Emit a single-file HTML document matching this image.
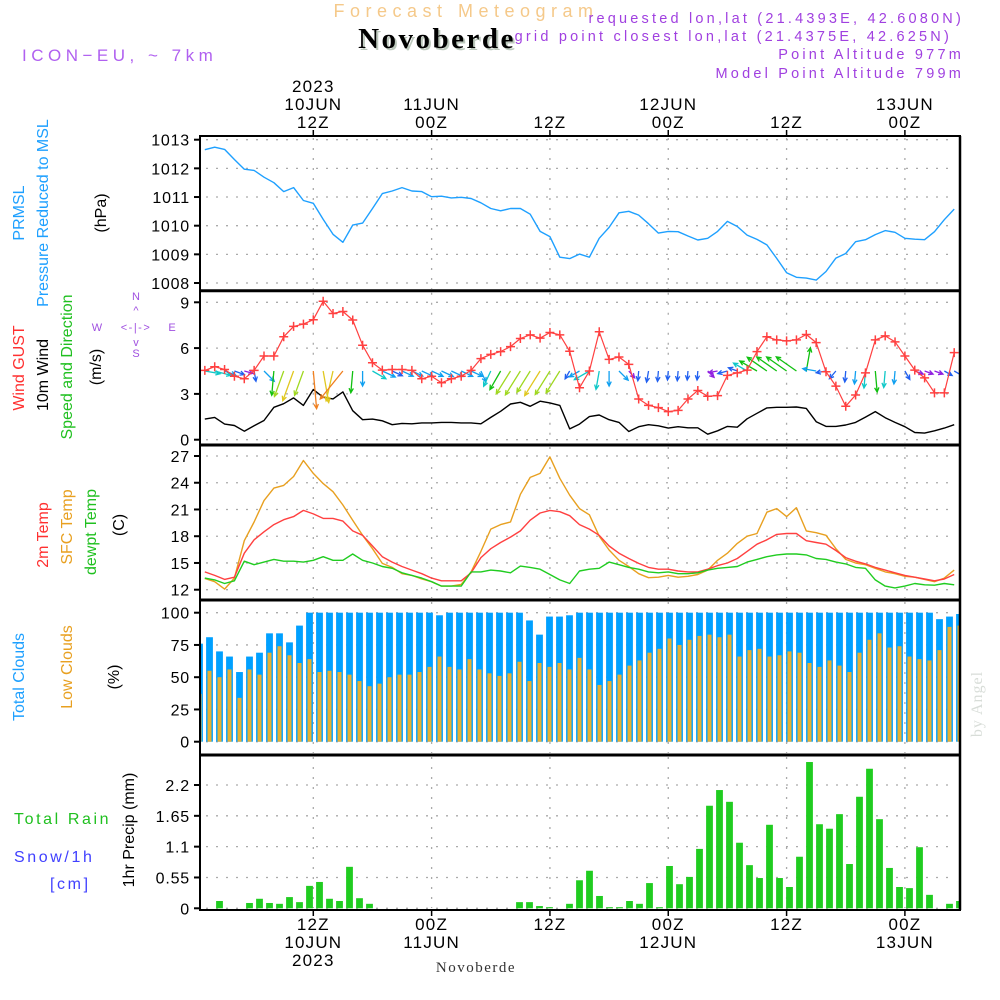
<!DOCTYPE html>
<html><head><meta charset="utf-8">
<style>
html,body{margin:0;padding:0;background:#fff;}
svg{display:block;font-family:"Liberation Sans",sans-serif;}
</style></head>
<body>
<svg id="chart" width="1000" height="1000" viewBox="0 0 1000 1000" xmlns="http://www.w3.org/2000/svg">
<g>
<text x="466" y="17" text-anchor="middle" font-size="18" fill="#f5c98a" letter-spacing="5.5">Forecast Meteogram</text>
<text x="439" y="50" text-anchor="middle" font-family="Liberation Serif, serif" font-weight="bold" font-size="29" fill="#bcc8bc" letter-spacing="2.5">Novoberde</text>
<text x="437" y="48" text-anchor="middle" font-family="Liberation Serif, serif" font-weight="bold" font-size="29" fill="#000" letter-spacing="2.5">Novoberde</text>
<text x="22" y="61" font-size="17" fill="#b060f0" letter-spacing="4.5">ICON−EU,  ~  7km</text>
<text x="964" y="23" text-anchor="end" font-size="14.5" fill="#a040e0" letter-spacing="3.2">requested lon,lat (21.4393E, 42.6080N)</text>
<text x="952" y="41" text-anchor="end" font-size="14.5" fill="#a040e0" letter-spacing="3.2">grid point closest lon,lat (21.4375E, 42.625N)</text>
<text x="964" y="59" text-anchor="end" font-size="14.5" fill="#a040e0" letter-spacing="3.2">Point Altitude 977m</text>
<text x="964" y="78" text-anchor="end" font-size="14.5" fill="#a040e0" letter-spacing="3.2">Model Point Altitude 799m</text>
</g>
<g font-size="16">
<text transform="translate(24,213) rotate(-90)" text-anchor="middle" fill="#1ea0ff">PRMSL</text>
<text transform="translate(48,213) rotate(-90)" text-anchor="middle" fill="#1ea0ff">Pressure Reduced to MSL</text>
<text transform="translate(106,213) rotate(-90)" text-anchor="middle" fill="#000">(hPa)</text>
<text transform="translate(24,368) rotate(-90)" text-anchor="middle" fill="#ff3030">Wind GUST</text>
<text transform="translate(48,375) rotate(-90)" text-anchor="middle" fill="#000">10m Wind</text>
<text transform="translate(72,367) rotate(-90)" text-anchor="middle" fill="#20c020">Speed and Direction</text>
<text transform="translate(101,367) rotate(-90)" text-anchor="middle" fill="#000">(m/s)</text>
<g fill="#a050e0" font-size="11">
<text x="136" y="300" text-anchor="middle">N</text>
<text x="136" y="357" text-anchor="middle">S</text>
<text x="97" y="331" text-anchor="middle">W</text>
<text x="172" y="331" text-anchor="middle">E</text>
<text x="136" y="331" text-anchor="middle" letter-spacing="1.5">&lt;-|-&gt;</text>
<text x="136" y="314" text-anchor="middle">^</text>
<text x="136" y="346" text-anchor="middle">v</text>
</g>
<text transform="translate(48,535) rotate(-90)" text-anchor="middle" fill="#ff3030">2m Temp</text>
<text transform="translate(72,527) rotate(-90)" text-anchor="middle" fill="#e8a020">SFC Temp</text>
<text transform="translate(96,532) rotate(-90)" text-anchor="middle" fill="#20c020">dewpt Temp</text>
<text transform="translate(124,525) rotate(-90)" text-anchor="middle" fill="#000">(C)</text>
<text transform="translate(24,677) rotate(-90)" text-anchor="middle" fill="#1ea0ff">Total Clouds</text>
<text transform="translate(72,667) rotate(-90)" text-anchor="middle" fill="#e8a020">Low Clouds</text>
<text transform="translate(119,677) rotate(-90)" text-anchor="middle" fill="#000">(%)</text>
<text x="14" y="824" fill="#20c020" letter-spacing="2.6">Total  Rain</text>
<text x="14" y="862" fill="#4040ff" letter-spacing="2.6">Snow/1h</text>
<text x="50" y="889" fill="#4040ff" letter-spacing="2.6">[cm]</text>
<text transform="translate(134,830) rotate(-90)" text-anchor="middle" fill="#000">1hr Precip (mm)</text>
</g>
<text transform="translate(982,704) rotate(-90)" text-anchor="middle" font-family="Liberation Serif, serif" font-size="16" fill="#d8ddd8" letter-spacing="1">by Angel</text>
<text x="476" y="972" text-anchor="middle" font-family="Liberation Serif, serif" font-size="15" fill="#333" letter-spacing="1.5">Novoberde</text>
<g id="plots"></g>
</svg>
<script>
// ---- data (hourly, from 10JUN 01Z) ----
const pressure = [1012.65,1012.74,1012.66,1012.31,1011.97,1011.93,1011.69,1011.5,1011.19,1011.33,1010.88,1010.78,1010.22,1009.7,1009.42,1010.02,1010.09,1010.6,1011.12,1011.21,1011.33,1011.21,1011.19,1011.01,1011.03,1010.97,1010.99,1010.95,1010.8,1010.6,1010.52,1010.6,1010.6,1010.4,1009.8,1009.62,1008.9,1008.85,1009.01,1008.9,1009.56,1009.94,1010.45,1010.5,1010.37,1010.07,1009.74,1009.8,1009.79,1009.64,1009.5,1009.56,1009.8,1010.15,1009.97,1009.67,1009.52,1009.33,1008.86,1008.36,1008.2,1008.17,1008.1,1008.4,1008.87,1009.03,1009.44,1009.51,1009.69,1009.83,1009.77,1009.56,1009.53,1009.51,1009.79,1010.21,1010.58];
const gust = [4.54,4.78,4.6,4.16,3.99,4.54,5.48,5.48,6.74,7.42,7.57,7.86,9.07,8.27,8.4,7.84,6.19,5.04,4.56,4.6,4.6,4.54,3.99,4.16,3.73,3.99,4.16,4.54,5.31,5.59,5.77,6.1,6.63,6.87,6.65,7.02,6.87,5.79,3.4,4.5,7.07,5.26,5.42,4.93,2.67,2.25,2.1,1.84,1.92,2.67,3.22,2.85,2.89,4.21,4.38,4.56,5.77,6.74,6.54,6.47,6.54,6.89,6.36,4.45,3.51,2.19,2.93,4.38,6.54,6.8,6.41,5.48,4.56,4.05,3.07,3.07,5.7];
const windSpeed = [1.35,1.46,1.02,0.93,0.56,0.91,1.26,2.12,2.36,2.74,2.25,3.29,2.78,2.67,3.13,1.9,1.31,1.35,1.24,0.98,1.07,1.04,1.1,1.1,1.13,1.13,1.1,1.1,1.04,1.46,1.86,2.34,2.45,2.19,2.52,2.41,2.25,0.71,1.02,1.51,1.62,1.31,1.13,0.54,0.85,0.98,0.91,0.76,0.85,0.78,0.78,0.36,0.58,0.87,0.82,1.37,1.73,2.08,2.12,2.12,2.14,2.05,1.18,0.87,0.87,0.96,1.13,1.48,1.84,1.44,1.13,0.85,0.47,0.43,0.58,0.76,0.98];
const windDir = [280,285,290,290,285,350,315,5,20,20,20,355,350,13,39,5,0,300,295,295,295,295,295,295,295,295,295,295,335,25,30,32,32,32,32,32,32,30,60,60,10,0,315,320,5,10,5,5,5,5,5,315,80,75,110,120,120,125,125,125,125,190,100,80,40,5,5,5,355,5,5,330,290,290,290,300,300];
const temp2m = [14.0,13.6,13.16,13.4,16.1,17.6,18.5,19.3,19.85,20.2,20.9,20.5,20.0,20.0,19.7,18.6,18.1,16.9,15.7,15.1,14.6,14.2,13.8,13.3,13.0,13.0,13.0,13.9,15.6,16.6,17.3,17.9,18.6,19.8,20.6,20.9,20.75,20.3,19.3,18.8,18.1,16.9,16.1,15.5,14.95,14.5,14.3,14.3,14.1,14.0,14.0,14.3,14.7,15.0,15.5,16.3,17.1,17.6,18.2,18.3,18.3,17.5,17.3,17.1,16.4,15.6,15.2,14.9,14.5,14.2,13.9,13.6,13.4,13.2,13.0,13.2,13.7];
const tempSfc = [13.27,12.9,12.07,13.3,17.5,19.6,22.0,23.4,23.7,24.7,26.5,25.05,23.9,23.0,21.5,19.8,18.1,16.6,14.95,14.5,13.8,13.6,13.2,12.9,12.4,12.4,12.6,14.0,16.3,18.8,19.3,19.6,22.7,24.6,25.05,26.9,24.5,22.6,21.1,20.4,18.0,16.45,15.3,14.6,13.8,13.35,13.4,13.6,13.4,13.5,13.7,14.2,15.3,16.1,17.2,18.0,18.3,20.7,21.1,20.2,21.2,18.6,18.4,18.1,16.6,15.4,15.0,14.8,14.4,14.0,13.8,13.5,13.4,13.15,12.9,13.3,14.2];
const dewpt = [13.3,13.1,12.7,13.0,15.2,14.8,15.1,15.4,15.2,15.2,15.1,15.3,15.7,15.3,15.3,16.0,15.3,15.0,14.6,14.4,13.9,13.6,13.3,12.9,12.4,12.4,12.4,14.0,14.0,14.2,14.1,13.9,14.65,14.5,14.3,13.7,13.1,12.7,14.1,14.3,14.4,15.1,14.8,14.5,14.3,14.0,13.9,14.0,13.8,13.8,13.9,14.2,14.4,14.5,14.6,15.1,15.4,15.7,15.9,16.0,16.0,15.9,15.5,15.4,15.1,14.9,14.5,14.4,13.1,12.4,12.2,12.4,12.7,12.55,12.5,12.7,12.55];
const totalClouds = [76,81,70,66,54,66,69,84,84,77,90,100,100,100,100,100,100,100,100,100,100,100,100,100,98,100,100,100,100,100,100,100,100,94,83,97,97,98,100,100,100,100,100,100,100,100,100,100,100,100,100,100,100,100,100,100,100,100,100,100,100,100,100,100,100,100,100,100,100,100,100,100,100,100,95,97,99];
const lowClouds = [37,55,50,56,34,56,52,69,74,67,61,64,54,55,54,52,47,43,45,50,52,52,54,58,66,58,56,64,56,53,51,53,62,47,61,58,61,56,65,56,44,47,52,59,63,69,72,80,75,79,82,83,81,83,66,71,72,66,67,70,69,61,58,63,59,54,69,79,84,73,74,66,64,63,71,89,90];
const precip = [0,0,0.13,0,0,0.095,0.17,0.095,0.08,0.2,0.11,0.4,0.47,0.17,0.13,0.74,0.18,0.08,0,0,0,0,0,0,0,0,0,0,0,0,0,0,0.11,0.11,0.04,0.02,0,0.08,0.5,0.67,0.22,0.02,0.02,0.13,0.08,0.45,0.02,0.755,0.43,0.56,1.06,1.83,2.11,1.9,1.17,0.77,0.54,1.49,0.54,0.38,0.92,2.61,1.5,1.42,1.68,0.79,1.99,2.49,1.59,0.72,0.38,0.36,1.09,0.24,0,0.08,0.13];
const pressureTicks = [1008,1009,1010,1011,1012,1013];
const windTicks = [0,3,6,9];
const tempTicks = [12,15,18,21,24,27];
const cloudTicks = [0,25,50,75,100];
const precipTicks = [0,0.55,1.1,1.65,2.2];
const precipTickLabels = ["0","0.55","1.1","1.65","2.2"];
const timeTickHours = [12,24,36,48,60,72];
const topLabels = [["2023","10JUN","12Z"],["","11JUN","00Z"],["","","12Z"],["","12JUN","00Z"],["","","12Z"],["","13JUN","00Z"]];
const bottomLabels = [["12Z","10JUN","2023"],["00Z","11JUN",""],["12Z","",""],["00Z","12JUN",""],["12Z","",""],["00Z","13JUN",""]];

// ---- scales ----
const NS = "http://www.w3.org/2000/svg";
const X0 = 200, X1 = 960;
const xHour = h => 313.3 + (h - 12) * 9.86;
const xLine = i => xHour(1 + i);
const xBar = i => 199.5 + 10 * i;
const lin = (d0, d1, r0, r1) => v => r0 + (v - d0) * (r1 - r0) / (d1 - d0);
const yP = lin(1008, 1013, 283, 139.7);
const yW = lin(0, 9, 439.7, 302.3);
const yT = lin(12, 27, 589.7, 456);
const yC = lin(0, 100, 741.7, 612.7);
const yR = lin(0, 2.2, 908.3, 785);
const panels = [[136,290.7],[290.7,445],[445,600],[600,755],[755,910]];

const root = document.getElementById('plots');
function mk(tag, attrs, parent) {
  const e = document.createElementNS(NS, tag);
  for (const k in attrs) e.setAttribute(k, attrs[k]);
  (parent || root).appendChild(e);
  return e;
}
const clip = mk('clipPath', {id: 'pc'});
mk('rect', {x: X0, y: 136, width: X1 - X0, height: 774}, clip);

// grid
const grid = mk('g', {stroke: '#aaa', 'stroke-width': 1.3, 'stroke-dasharray': '2 8', fill: 'none'});


panels.forEach(p => timeTickHours.forEach(h => mk('line', {x1: xHour(h), x2: xHour(h), y1: p[0] + 2, y2: p[1] - 2}, grid)));
function hgrid(ticks, sc) { ticks.forEach(t => mk('line', {x1: X0 + 6, x2: X1 - 4, y1: sc(t), y2: sc(t)}, grid)); }
hgrid(pressureTicks, yP); hgrid(windTicks, yW); hgrid(tempTicks, yT); hgrid(cloudTicks, yC); hgrid(precipTicks, yR);

// y axes labels
function yaxis(ticks, labels, sc, name) {
  const g = mk('g', {'font-size': 16, 'text-anchor': 'end', fill: '#000', 'letter-spacing': '0.8'});
  
  
  ticks.forEach((t, k) => {
    mk('line', {x1: 194, x2: 200, y1: sc(t), y2: sc(t), stroke: '#000', 'stroke-width': 2}, g);
    const tx = mk('text', {x: 190, y: sc(t) + 6}, g);
    tx.textContent = labels[k];
  });
}
yaxis(pressureTicks, pressureTicks.map(String), yP, 'pressure-y-axis');
yaxis(windTicks, windTicks.map(String), yW, 'wind-y-axis');
yaxis(tempTicks, tempTicks.map(String), yT, 'temp-y-axis');
yaxis(cloudTicks, cloudTicks.map(String), yC, 'cloud-y-axis');
yaxis(precipTicks, precipTickLabels, yR, 'precip-y-axis');

const plot = mk('g', {'clip-path': 'url(#pc)'});

// cloud bars
const cg = mk('g', {}, plot);


totalClouds.forEach((v, i) => {
  const b = mk('rect', {x: xBar(i) - 3.4, y: yC(v), width: 6.8, height: yC(0) - yC(v), fill: '#00a0ff'}, cg);
  
  
});
lowClouds.forEach((v, i) => {
  const b = mk('rect', {x: xBar(i) - 2, y: yC(v), width: 4, height: yC(0) - yC(v), fill: '#e8b030'}, cg);
  
  
});
// precip bars
const rg = mk('g', {}, plot);


precip.forEach((v, i) => {
  if (v <= 0) return;
  const b = mk('rect', {x: xBar(i) - 3.4, y: yR(v), width: 6.8, height: yR(0) - yR(v), fill: '#20cc20'}, rg);
  
  
});

function line(arr, sc, color, name, w) {
  const pl = mk('polyline', {points: arr.map((v, i) => xLine(i).toFixed(1) + ',' + sc(v).toFixed(1)).join(' '), fill: 'none', stroke: color, 'stroke-width': w || 1.4, 'stroke-linejoin': 'round'}, plot);
  
  
}
line(pressure, yP, '#1ea0ff', 'pressure-line');
line(tempSfc, yT, '#e8a020', 'sfc-temp-line');
line(temp2m, yT, '#ff4040', 'temp-2m-line');
line(dewpt, yT, '#20cc20', 'dewpt-line');
line(windSpeed, yW, '#000', 'wind-speed-line');

// wind arrows
function wcol(s) {
  if (s < 0.7) return '#9020e0';
  if (s < 1.0) return '#2060f0';
  if (s < 1.35) return '#10a0f0';
  if (s < 1.7) return '#10c8c8';
  if (s < 2.15) return '#10c010';
  if (s < 2.5) return '#a0d820';
  if (s < 2.95) return '#e0c820';
  return '#f08020';
}
const ag = mk('g', {}, plot);


windSpeed.forEach((s, i) => {
  const L = Math.max(9, 11.5 * s);
  const th = (windDir[i] + 180) * Math.PI / 180; // direction toward
  const dx = Math.sin(th), dy = -Math.cos(th);
  const x0 = xLine(i), y0 = yW(4.5);
  const x1 = x0 + dx * L, y1 = y0 + dy * L;
  const c = wcol(s);
  const h = 5, a = 0.45;
  const bx = -dx, by = -dy;
  const p1x = x1 + h * (bx * Math.cos(a) - by * Math.sin(a)), p1y = y1 + h * (bx * Math.sin(a) + by * Math.cos(a));
  const p2x = x1 + h * (bx * Math.cos(-a) - by * Math.sin(-a)), p2y = y1 + h * (bx * Math.sin(-a) + by * Math.cos(-a));
  const p = mk('path', {d: `M${x0},${y0}L${x1},${y1}M${p1x},${p1y}L${x1},${y1}L${p2x},${p2y}`, stroke: c, 'stroke-width': 1.3, fill: 'none'}, ag);
  
  
});

// gust
line(gust, yW, '#ff4040', 'gust-line', 1.2);
const gg = mk('g', {stroke: '#ff4040', 'stroke-width': 1.5}, plot);


gust.forEach((v, i) => {
  const x = xLine(i), y = yW(v);
  mk('path', {d: `M${x - 4.5},${y}H${x + 4.5}M${x},${y - 4.5}V${y + 4.5}`}, gg);
});

// frame
const fr = mk('g', {stroke: '#000', fill: 'none'});


mk('rect', {x: X0, y: 136, width: X1 - X0, height: 774, 'stroke-width': 2}, fr);
[290.7, 445, 600, 755].forEach(y => mk('line', {x1: X0, x2: X1, y1: y, y2: y, 'stroke-width': 3}, fr));
mk('line', {x1: X1, x2: X1, y1: 136, y2: 910, 'stroke-width': 2.5}, fr);
timeTickHours.forEach(h => {
  mk('line', {x1: xHour(h), x2: xHour(h), y1: 130, y2: 136, 'stroke-width': 1.5}, fr);
  mk('line', {x1: xHour(h), x2: xHour(h), y1: 910, y2: 916, 'stroke-width': 1.5}, fr);
});

// time labels
const tg = mk('g', {'font-size': 17, 'text-anchor': 'middle', fill: '#000', 'letter-spacing': '1.2'});


timeTickHours.forEach((h, k) => {
  const x = xHour(h);
  [92, 110, 128].forEach((y, r) => { if (topLabels[k][r]) { const t = mk('text', {x, y}, tg); t.textContent = topLabels[k][r]; } });
  [930, 948, 966].forEach((y, r) => { if (bottomLabels[k][r]) { const t = mk('text', {x, y}, tg); t.textContent = bottomLabels[k][r]; } });
});
</script>
</body></html>
